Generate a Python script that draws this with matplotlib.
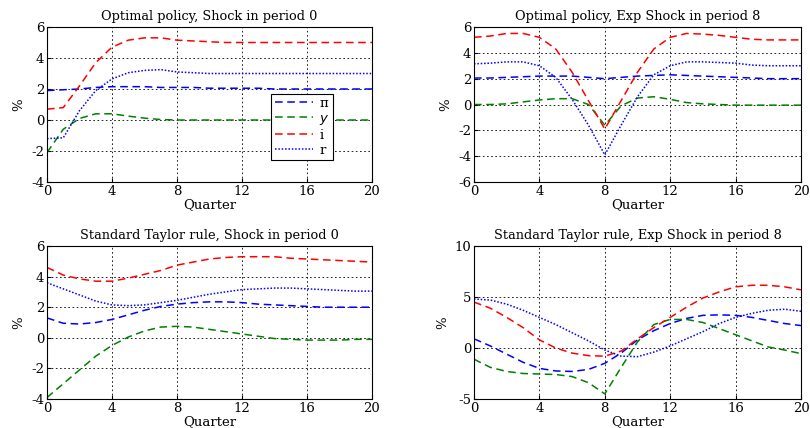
import numpy as np
import matplotlib
matplotlib.use("Agg")
import matplotlib.pyplot as plt

plt.rcParams['font.family'] = ['DejaVu Serif']
plt.rcParams['font.size'] = 9
plt.rcParams['axes.unicode_minus'] = False

quarters = list(range(21))

# Optimal policy, shock in period 0
opt0_pi = [1.9, 1.95, 2.0, 2.1, 2.15, 2.15, 2.15, 2.1, 2.1, 2.1, 2.05, 2.05, 2.05, 2.05, 2.0, 2.0, 2.0, 2.0, 2.0, 2.0, 2.0]
opt0_y = [-2.1, -0.6, 0.1, 0.4, 0.4, 0.25, 0.12, 0.03, 0.0, 0.0, 0.0, 0.0, 0.0, 0.0, 0.0, 0.0, 0.0, 0.0, 0.0, 0.0, 0.0]
opt0_i = [0.7, 0.8, 2.2, 3.7, 4.7, 5.15, 5.3, 5.3, 5.15, 5.1, 5.05, 5.0, 5.0, 5.0, 5.0, 5.0, 5.0, 5.0, 5.0, 5.0, 5.0]
opt0_r = [-1.2, -1.15, 0.6, 1.9, 2.65, 3.05, 3.2, 3.25, 3.1, 3.05, 3.0, 3.0, 3.0, 3.0, 3.0, 3.0, 3.0, 3.0, 3.0, 3.0, 3.0]

# Optimal policy, expected shock in period 8
opt8_pi = [2.05, 2.05, 2.1, 2.15, 2.2, 2.2, 2.2, 2.1, 2.0, 2.1, 2.2, 2.25, 2.3, 2.25, 2.2, 2.15, 2.1, 2.05, 2.0, 2.0, 2.0]
opt8_y = [0.0, 0.0, 0.05, 0.2, 0.35, 0.45, 0.45, 0.0, -1.6, -0.1, 0.5, 0.6, 0.4, 0.15, 0.05, 0.0, -0.05, -0.05, -0.05, -0.05, -0.05]
opt8_i = [5.2, 5.3, 5.5, 5.5, 5.2, 4.3, 2.5, 0.3, -1.9, 0.3, 2.5, 4.3, 5.2, 5.5, 5.45, 5.35, 5.2, 5.05, 5.0, 5.0, 5.0]
opt8_r = [3.15, 3.2, 3.3, 3.3, 3.0, 2.1, 0.4, -1.6, -3.9, -1.6, 0.6, 2.3, 3.0, 3.3, 3.3, 3.25, 3.2, 3.05, 3.0, 3.0, 3.0]

# Standard Taylor rule, shock in period 0
tay0_pi = [1.3, 0.95, 0.9, 1.0, 1.2, 1.5, 1.8, 2.05, 2.2, 2.3, 2.35, 2.35, 2.3, 2.2, 2.15, 2.1, 2.05, 2.0, 2.0, 2.0, 2.0]
tay0_y = [-3.9, -3.0, -2.1, -1.2, -0.5, 0.05, 0.45, 0.7, 0.75, 0.7, 0.55, 0.4, 0.25, 0.1, -0.05, -0.1, -0.15, -0.15, -0.15, -0.1, -0.1]
tay0_i = [4.6, 4.1, 3.85, 3.7, 3.7, 3.9, 4.15, 4.4, 4.75, 4.95, 5.15, 5.25, 5.3, 5.3, 5.3, 5.2, 5.15, 5.1, 5.05, 5.0, 4.95]
tay0_r = [3.6, 3.2, 2.8, 2.4, 2.15, 2.1, 2.15, 2.3, 2.45, 2.65, 2.85, 3.0, 3.15, 3.2, 3.25, 3.25, 3.2, 3.15, 3.1, 3.05, 3.05]

# Standard Taylor rule, expected shock in period 8
tay8_pi = [0.9, 0.2, -0.6, -1.4, -2.0, -2.25, -2.3, -2.1, -1.5, -0.5, 0.8, 1.7, 2.4, 2.9, 3.2, 3.25, 3.2, 3.0, 2.7, 2.4, 2.2]
tay8_y = [-1.1, -1.9, -2.3, -2.5, -2.55, -2.6, -2.8, -3.4, -4.5, -1.9, 0.6, 2.3, 2.8, 2.8, 2.5, 1.9, 1.3, 0.7, 0.1, -0.2, -0.55]
tay8_i = [4.5, 3.9, 3.0, 2.0, 0.8, 0.0, -0.5, -0.75, -0.8, -0.3, 0.9, 2.0, 3.0, 4.0, 4.9, 5.5, 6.0, 6.15, 6.15, 6.0, 5.7]
tay8_r = [4.8, 4.7, 4.3, 3.7, 3.0, 2.3, 1.5, 0.7, -0.2, -0.8, -0.85, -0.4, 0.2, 0.9, 1.6, 2.4, 3.0, 3.4, 3.7, 3.8, 3.6]

titles = ["Optimal policy, Shock in period 0", "Optimal policy, Exp Shock in period 8",
          "Standard Taylor rule, Shock in period 0", "Standard Taylor rule, Exp Shock in period 8"]
panels = [(opt0_pi, opt0_y, opt0_i, opt0_r), (opt8_pi, opt8_y, opt8_i, opt8_r),
          (tay0_pi, tay0_y, tay0_i, tay0_r), (tay8_pi, tay8_y, tay8_i, tay8_r)]
ylims = [(-4, 6), (-6, 6), (-4, 6), (-5, 10)]
ysteps = [2, 2, 2, 5]

W, H = 810, 428
# axes boxes in pixels: left, top, right, bottom
boxes = [(47, 27, 372, 182), (474, 27, 801, 182), (47, 246, 372, 399), (474, 246, 801, 399)]

fig = plt.figure(figsize=(8.1, 4.28), dpi=100)

for k in range(4):
    l, t, r, b = boxes[k]
    ax = fig.add_axes([l / W, 1 - b / H, (r - l) / W, (b - t) / H])
    pi, y, i, rr = panels[k]
    ax.plot(quarters, pi, color='blue', ls=(0, (5, 3)), lw=1.1, label='π')
    ax.plot(quarters, y, color='green', ls=(0, (5, 3)), lw=1.1, label=r'$y$')
    ax.plot(quarters, i, color='red', ls=(0, (5, 3)), lw=1.1, label='i')
    ax.plot(quarters, rr, color='blue', ls=(0, (1, 1.2)), lw=1.1, label='r')
    ax.set_xlim(0, 20)
    ax.set_ylim(*ylims[k])
    ax.set_xticks(range(0, 21, 4))
    ax.set_yticks(np.arange(ylims[k][0], ylims[k][1] + 0.1, ysteps[k]))
    ax.grid(True, color='black', ls=(0, (2, 3)), lw=0.6)
    ax.tick_params(direction='in', length=3, labelsize=9.5, pad=2)
    for s in ax.spines.values():
        s.set_linewidth(0.8)
    ax.set_title(titles[k], fontsize=9.3, pad=5)
    ax.set_xlabel('Quarter', fontsize=9.5, labelpad=0)
    ax.set_ylabel('%', fontsize=9.5, labelpad=4)
    if k == 0:
        leg = ax.legend(loc='lower left', bbox_to_anchor=(0.69, 0.14), fancybox=False,
                        edgecolor='black', framealpha=1, fontsize=9.5, handlelength=2.9,
                        borderpad=0.25, labelspacing=0.15, handletextpad=0.5,
                        borderaxespad=0)
        leg.get_frame().set_linewidth(0.8)

fig.savefig('out.png', dpi=100)
